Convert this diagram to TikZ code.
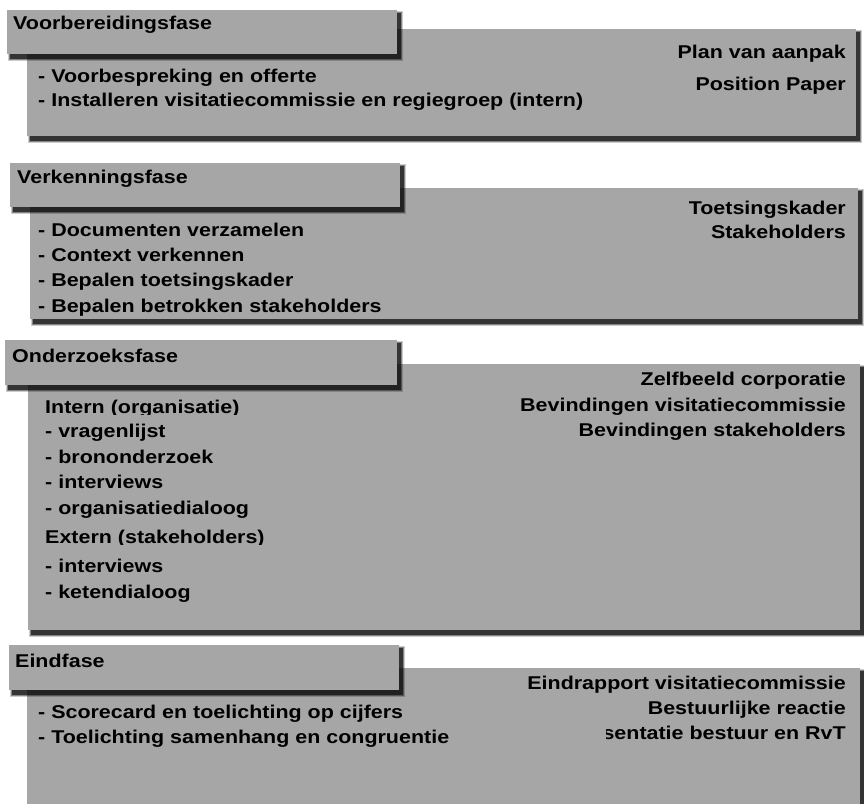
\documentclass[tikz,border=0pt]{standalone}
\usepackage{fontspec}
\setmainfont{Liberation Sans}[FakeStretch=1.16]
\definecolor{boxgray}{RGB}{166,166,166}
\newcommand\phshadow[4]{%
  \fill[black,opacity=0.2] (#1+1,#2+1) rectangle (#3+6,#4+7);
  \fill[black,opacity=0.35] (#1+2,#2+2) rectangle (#3+5,#4+6);
  \fill[black,opacity=0.6] (#1+3,#2+3) rectangle (#3+4,#4+5);
  \fill[boxgray] (#1,#2) rectangle (#3,#4);}
\begin{document}
\begin{tikzpicture}[x=1pt,y=-1pt,
  txt/.style={inner sep=0pt,font=\fontsize{18.5}{22}\selectfont\bfseries},
  lt/.style={txt,anchor=base west},
  rt/.style={txt,anchor=base east}]
\useasboundingbox (0,0) rectangle (864,803);
\clip (0,0) rectangle (864,803);
\fill[white] (0,0) rectangle (864,803);
% ---------- Phase 1
\phshadow{27}{29}{856}{136}
\phshadow{7}{10}{397}{54}
\node[lt] (h1) at (13,29) {Voorbereidingsfase};
\node[lt] (a1) at (38,82) {- Voorbespreking en offerte};
\node[lt] (a2) at (38,106) {- Installeren visitatiecommissie en regiegroep (intern)};
\node[rt] (r1) at (846,58) {Plan van aanpak};
\node[rt] (r2) at (846,90) {Position Paper};
% ---------- Phase 2
\phshadow{30}{188}{858}{319}
\phshadow{10}{163}{400}{207}
\node[lt] (h2) at (17,183) {Verkenningsfase};
\node[lt] (b1) at (38,236) {- Documenten verzamelen};
\node[lt] (b2) at (38,261) {- Context verkennen};
\node[lt] (b3) at (38,286) {- Bepalen toetsingskader};
\node[lt] (b4) at (38,312) {- Bepalen betrokken stakeholders};
\node[rt] (s1) at (846,214) {Toetsingskader};
\node[rt] (s2) at (846,238) {Stakeholders};
% ---------- Phase 3
\phshadow{28}{364}{860}{630}
\phshadow{5}{340}{397}{385}
\node[lt] (h3) at (12,362) {Onderzoeksfase};
\begin{scope}
\clip (0,395) rectangle (400,414);
\node[lt] (c0) at (45,413) {Intern (organisatie)};
\end{scope}
\node[lt] (c1) at (45,437) {- vragenlijst};
\node[lt] (c2) at (45,463) {- brononderzoek};
\node[lt] (c3) at (45,488) {- interviews};
\node[lt] (c4) at (45,514) {- organisatiedialoog};
\begin{scope}
\clip (0,525) rectangle (400,544);
\node[lt] (c5) at (45,543) {Extern (stakeholders)};
\end{scope}
\node[lt] (c6) at (45,572) {- interviews};
\node[lt] (c7) at (45,598) {- ketendialoog};
\node[rt] (t1) at (846,385) {Zelfbeeld corporatie};
\node[rt] (t2) at (846,411) {Bevindingen visitatiecommissie};
\node[rt] (t3) at (846,436) {Bevindingen stakeholders};
% ---------- Phase 4
\phshadow{27}{668}{860}{840}
\phshadow{9}{645}{399}{690}
\node[lt] (h4) at (15,667) {Eindfase};
\node[lt] (d1) at (38,718) {- Scorecard en toelichting op cijfers};
\node[lt] (d2) at (38,743) {- Toelichting samenhang en congruentie};
\node[rt] (u1) at (846,689) {Eindrapport visitatiecommissie};
\node[rt] (u2) at (846,714) {Bestuurlijke reactie};
\begin{scope}
\clip (606,720) rectangle (864,750);
\node[rt] (u3) at (846,739) {Presentatie bestuur en RvT};
\end{scope}
\end{tikzpicture}
\end{document}
